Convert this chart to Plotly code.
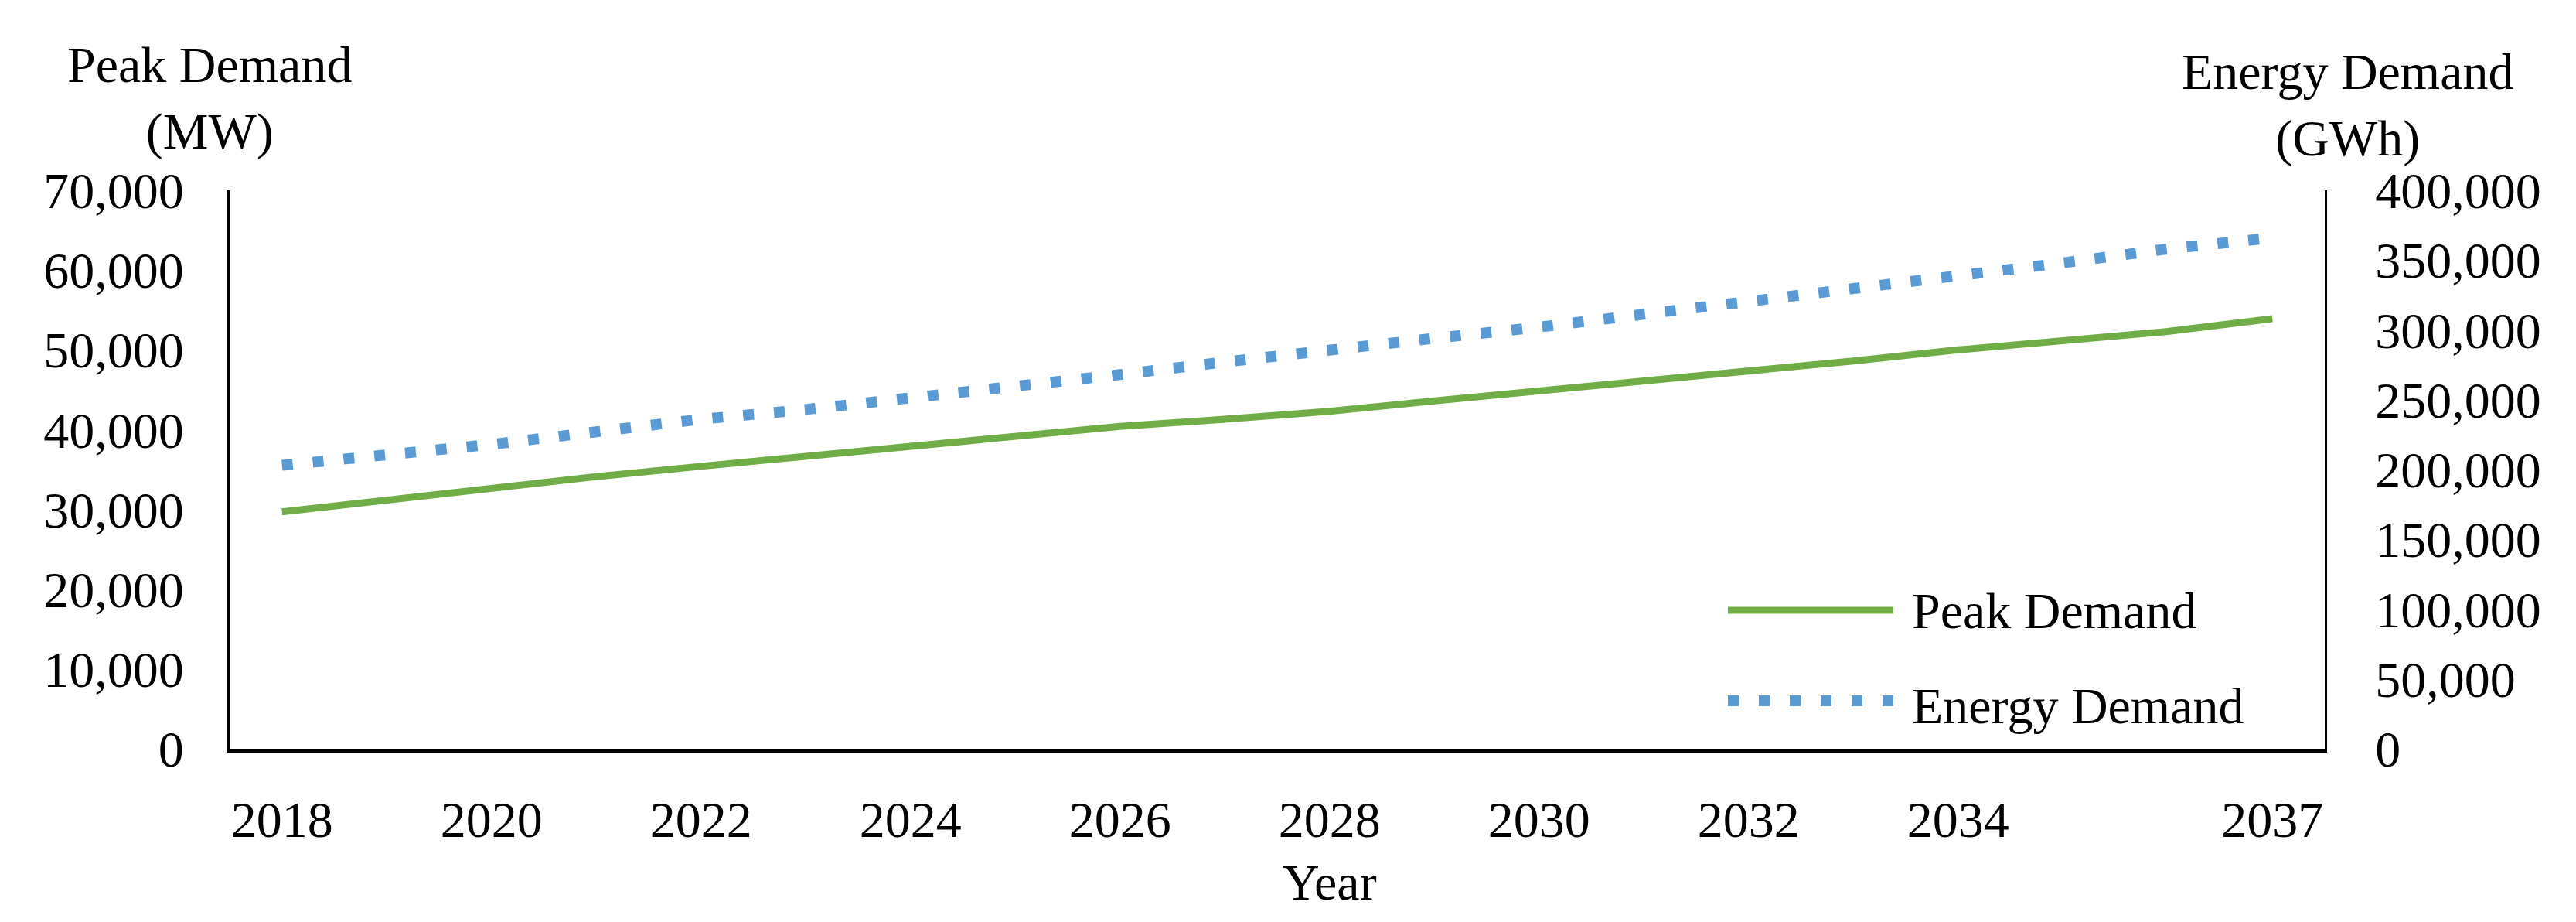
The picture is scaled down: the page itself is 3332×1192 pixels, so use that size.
import plotly.graph_objects as go

# ---- data ----
years = list(range(2018, 2038))
peak_demand_mw = [29700, 31200, 32800, 34100, 35400, 36600, 37900, 39100, 40400, 41300,
                  42300, 43600, 44800, 46000, 47200, 48600, 50000, 51100, 52300, 53900]
energy_demand_gwh = [203000, 210000, 218000, 227000, 236000, 243000, 251000, 259000, 268000, 277000,
                     286000, 294000, 302000, 311000, 320000, 329000, 339000, 348000, 358000, 366000]
x_tick_years = [2018, 2020, 2022, 2024, 2026, 2028, 2030, 2032, 2034, 2037]
left_ticks = [0, 10000, 20000, 30000, 40000, 50000, 60000, 70000]
right_ticks = [0, 50000, 100000, 150000, 200000, 250000, 300000, 350000, 400000]

FONT = "Book Antiqua, Palatino Linotype, Palatino, Liberation Serif, serif"
GREEN = "#70AD47"
BLUE = "#5B9BD5"
FS = 66

W, H = 3332, 1192
L, R, T, B = 297, 325, 246, 224
PW, PH = W - L - R, H - T - B


def px(x):
    return (x - L) / PW


def py(y):
    return (H - B - y) / PH


fig = go.Figure()
fig.add_trace(go.Scatter(x=years, y=peak_demand_mw, name="Peak Demand", mode="lines",
                         line=dict(color=GREEN, width=9), yaxis="y", showlegend=False))
fig.add_trace(go.Scatter(x=years, y=energy_demand_gwh, name="Energy Demand", mode="lines",
                         line=dict(color=BLUE, width=14, dash="14px,26px"), yaxis="y2",
                         showlegend=False))

fig.update_layout(
    width=W, height=H, autosize=False,
    margin=dict(l=L, r=R, t=T, b=B, pad=0),
    paper_bgcolor="white", plot_bgcolor="white",
    font=dict(family=FONT, size=FS, color="black"),
    showlegend=False,
    xaxis=dict(range=[2017.5, 2037.5], tickvals=x_tick_years, ticktext=[str(v) for v in x_tick_years],
               showline=True, linecolor="black", linewidth=5, showgrid=False, zeroline=False,
               ticks="", ticklabelstandoff=30, tickfont=dict(size=FS)),
    yaxis=dict(range=[0, 70000], tickvals=left_ticks, tickformat=",", showline=True,
               linecolor="black", linewidth=3, showgrid=False, zeroline=False, ticks="",
               ticklabelstandoff=43, tickfont=dict(size=FS)),
    yaxis2=dict(range=[0, 400000], tickvals=right_ticks, tickformat=",", overlaying="y",
                side="right", showline=True, linecolor="black", linewidth=3, showgrid=False,
                zeroline=False, ticks="", ticklabelstandoff=49, tickfont=dict(size=FS)),
)

# axis titles
fig.add_annotation(text="Peak Demand<br>(MW)", xref="paper", yref="paper", x=px(271), y=py(127),
                   xanchor="center", yanchor="middle", showarrow=False, font=dict(size=FS))
fig.add_annotation(text="Energy Demand<br>(GWh)", xref="paper", yref="paper", x=px(3036), y=py(136),
                   xanchor="center", yanchor="middle", showarrow=False, font=dict(size=FS))
fig.add_annotation(text="Year", xref="paper", yref="paper", x=px(1720), y=py(1140),
                   xanchor="center", yanchor="middle", showarrow=False, font=dict(size=FS))

# legend (drawn)
fig.add_shape(type="line", xref="paper", yref="paper", x0=px(2235), x1=px(2449), y0=py(789), y1=py(789),
              line=dict(color=GREEN, width=9))
fig.add_shape(type="line", xref="paper", yref="paper", x0=px(2235), x1=px(2449), y0=py(906), y1=py(906),
              line=dict(color=BLUE, width=14, dash="14px,26px"))
fig.add_annotation(text="Peak Demand", xref="paper", yref="paper", x=px(2471), y=py(789),
                   xanchor="left", yanchor="middle", showarrow=False, font=dict(size=FS))
fig.add_annotation(text="Energy Demand", xref="paper", yref="paper", x=px(2471), y=py(912),
                   xanchor="left", yanchor="middle", showarrow=False, font=dict(size=FS))

fig.write_html("out.html", config={"displayModeBar": False},
               post_script="document.body.style.margin='0';")
